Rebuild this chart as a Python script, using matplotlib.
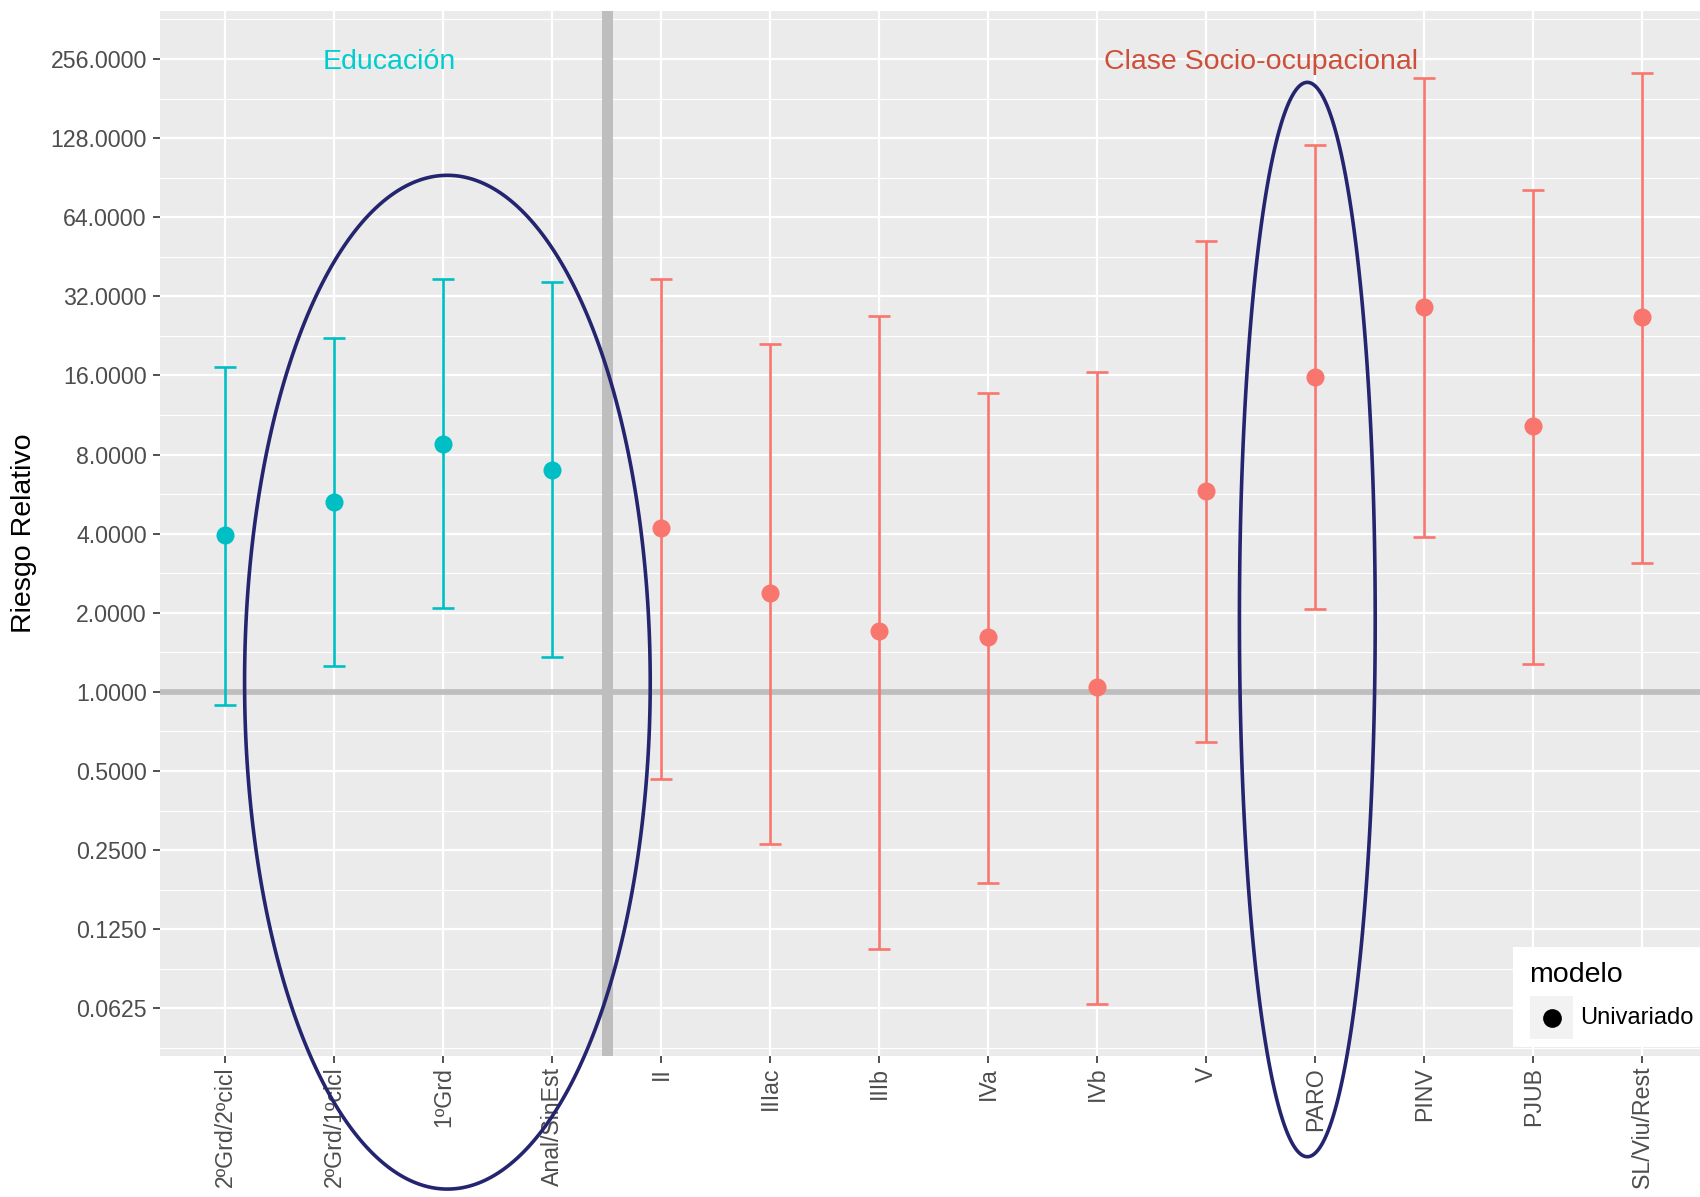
import numpy as np
import matplotlib
matplotlib.use("Agg")
import matplotlib.pyplot as plt
from matplotlib.patches import Rectangle, Polygon
from matplotlib.lines import Line2D

plt.rcParams['font.family'] = ['Liberation Sans', 'DejaVu Sans']

# riesgo relativo (modelo univariado) con IC 95%
categorias = ["2ºGrd/2ºcicl", "2ºGrd/1ºcicl", "1ºGrd", "Anal/SinEst",
              "II", "IIIac", "IIIb", "IVa", "IVb", "V",
              "PARO", "PINV", "PJUB", "SL/Viu/Rest"]
grupo = ["edu"] * 4 + ["clase"] * 10
rr = [3.96, 5.27, 8.8, 7.0,
      4.19, 2.37, 1.70, 1.62, 1.04, 5.79,
      15.85, 29.1, 10.24, 26.7]
ic_inf = [0.89, 1.256, 2.08, 1.355,
          0.468, 0.265, 0.105, 0.188, 0.065, 0.646,
          2.06, 3.89, 1.28, 3.10]
ic_sup = [17.3, 22.3, 37.2, 36.2,
          37.2, 21.1, 27.0, 13.7, 16.5, 52.0,
          121.0, 216.0, 81.0, 226.0]

colores = {"edu": "#00BFC4", "clase": "#F8766D"}
yticks = [0.0625, 0.125, 0.25, 0.5, 1, 2, 4, 8, 16, 32, 64, 128, 256]

# elipses resaltando grupos: (centro x, semiancho, centro log2, semialto log2)
elipses = [(3.037, 1.861, 0.123, 6.407),
           (10.927, 0.623, 0.915, 6.79)]

W, H = 1700, 1197
fig = plt.figure(figsize=(W / 100, H / 100), dpi=100)
ax = fig.add_axes([160 / W, 1 - 1055.7 / H, (W - 160) / W, (1055.7 - 11) / H])
ax.set_facecolor("#EBEBEB")
for s in ax.spines.values():
    s.set_visible(False)

x = np.arange(1, len(categorias) + 1)
ax.set_yscale("log", base=2)
ax.set_ylim(2 ** -4.598, 2 ** 8.607)
ax.set_xlim(0.4, 14.53)

# rejilla
minor = [2 ** (k + 0.5) for k in range(-5, 9)]
ax.set_yticks(yticks)
ax.set_yticks(minor, minor=True)
ax.set_yticklabels([f"{v:.4f}" for v in yticks])
ax.yaxis.set_minor_formatter(matplotlib.ticker.NullFormatter())
ax.set_xticks(x)
ax.set_xticklabels(categorias, rotation=90)
ax.grid(True, which="major", color="white", lw=1.6)
ax.grid(True, which="minor", axis="y", color="white", lw=0.8)
ax.set_axisbelow(True)
ax.tick_params(axis="y", which="minor", length=0)
ax.tick_params(axis="both", which="major", length=5, width=1.2, color="#333333",
               labelcolor="#4D4D4D", labelsize=16.7)
ax.tick_params(axis="y", pad=4.5)
ax.tick_params(axis="x", pad=3)

# lineas de referencia
ax.axhline(1, color="#BEBEBE", lw=4.1, zorder=1.5)
ax.axvline(4.5, color="#BEBEBE", lw=7.9, zorder=1.5)

for xi, g, r, lo, hi in zip(x, grupo, rr, ic_inf, ic_sup):
    c = colores[g]
    ax.errorbar(xi, r, yerr=[[r - lo], [hi - r]], fmt="none", ecolor=c,
                elinewidth=1.9, capsize=8.2, capthick=1.9, zorder=3)
    ax.plot(xi, r, "o", color=c, ms=13, mec="none", zorder=4)

ax.text(2.5, 256, "Educación", color="#00CDCD", fontsize=20.5,
        ha="center", va="center_baseline")
ax.text(10.5, 256, "Clase Socio-ocupacional", color="#CD4F39", fontsize=20.5,
        ha="center", va="center_baseline")

t = np.linspace(0, 2 * np.pi, 400, endpoint=False)
for cx, a, cy, b in elipses:
    pts = np.column_stack([cx + a * np.cos(t), 2 ** (cy + b * np.sin(t))])
    ax.add_patch(Polygon(pts, closed=True, fill=False, edgecolor="#25256F",
                         lw=2.6, clip_on=False, zorder=6, joinstyle="round"))

fig.text(24 / W, 1 - 492 * 1.0842 / H, "Riesgo Relativo", rotation=90,
         fontsize=20.5, ha="center", va="center", color="black")

# leyenda
def fx(px):
    return px / W


def fy(py):
    return 1 - py / H


fig.patches.append(Rectangle((fx(1513), fy(1047)), fx(1700) - fx(1513),
                             fy(947) - fy(1047), transform=fig.transFigure,
                             facecolor="white", edgecolor="none", zorder=7))
fig.patches.append(Rectangle((fx(1530), fy(1039)), fx(1573) - fx(1530),
                             fy(996) - fy(1039), transform=fig.transFigure,
                             facecolor="#F2F2F2", edgecolor="none", zorder=8))
fig.lines.append(Line2D([fx(1551.5)], [fy(1017.5)], marker="o", ms=13.5,
                        color="black", mec="none", transform=fig.transFigure,
                        zorder=9))
fig.text(fx(1529), fy(975), "modelo", fontsize=20.5, ha="left", va="center",
         zorder=9)
fig.text(fx(1580), fy(1017.5), "Univariado", fontsize=17, ha="left",
         va="center", zorder=9)

fig.savefig("out.png", dpi=100)
